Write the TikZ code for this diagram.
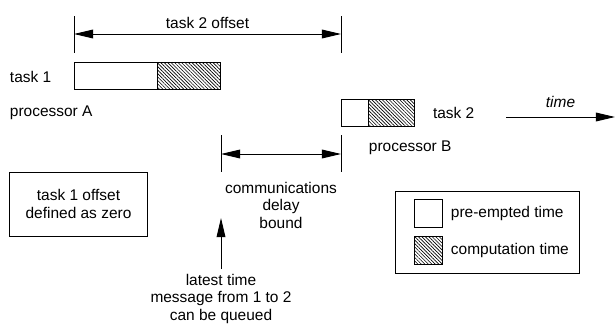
\documentclass[tikz,border=0pt]{standalone}
\usepackage{fontspec}
\setmainfont{Liberation Sans}
\usetikzlibrary{arrows.meta, positioning, patterns.meta}

\tikzset{
  slot/.style={draw, line width=0.7pt, inner sep=0pt, outer sep=0pt, minimum height=0.675cm},
  busy/.style={slot, pattern={Lines[angle=-45, distance=1.75pt, line width=0.45pt]}},
  lbl/.style={align=center},
  tick/.style={line width=0.7pt},
  arr/.style={line width=0.7pt, -{Triangle[length=0.48cm,width=0.22cm]}},
  dim/.style={line width=0.7pt, {Triangle[length=0.48cm,width=0.22cm]}-{Triangle[length=0.48cm,width=0.22cm]}},
}

\begin{document}
\begin{tikzpicture}[x=0.025cm, y=-0.025cm, font=\fontsize{11}{12.5}\selectfont]
\useasboundingbox (0,0) rectangle (615,323);
%task 1 on processor A
\node[slot, minimum width=2.075cm, anchor=north west] (pre1) at (74,62) {};
\node[busy, minimum width=1.575cm, anchor=west] (comp1) at (pre1.east) {};
\node[anchor=west] (task1) at (5,77) {task 1};
\node[anchor=west] (procA) at (5,113) {processor A};
%task 2 on processor B
\node[slot, minimum width=0.675cm, anchor=north west] (pre2) at (341,99) {};
\node[busy, minimum width=1.15cm, anchor=west] (comp2) at (pre2.east) {};
\node[right=0.35cm of comp2] (task2) {task 2};
\node[anchor=west] (procB) at (364,148) {processor B};
%task 2 offset
\coordinate (off1) at (74,34);
\coordinate (off2) at (341,34);
\draw[tick] (74,16) -- (74,53);
\draw[tick] (341,16) -- (341,53);
\draw[dim] (off1) -- (off2) node[midway, above] (offlbl) {task 2 offset};
%communications delay
\coordinate (cd1) at (221,154);
\coordinate (cd2) at (341,154);
\draw[tick] (221,135) -- (221,172);
\draw[tick] (341,135) -- (341,172);
\draw[dim] (cd1) -- (cd2);
\node[lbl, anchor=north] (cdlbl) at (281,177) {communications\\delay\\bound};
%latest queue time
\coordinate (qtip) at (221,218);
\node[lbl, anchor=north] (queue) at (221,269) {latest time\\message from 1 to 2\\can be queued};
\draw[arr] (queue) -- (qtip);
%time axis
\coordinate (t0) at (506,117);
\coordinate (t1) at (615,117);
\draw[arr] (t0) -- (t1) node[midway, above=1mm] (timelbl) {\itshape time};
%offset note
\node[draw, lbl, line width=0.7pt, minimum width=3.425cm, minimum height=1.6cm] (zero) at (78.5,204) {task 1 offset\\defined as zero};
%legend
\node[draw, line width=0.7pt, minimum width=4.575cm, minimum height=2.05cm] (legend) at (487.5,232) {};
\node[slot, minimum width=0.7cm, minimum height=0.7cm] (keypre) at (428,213) {};
\node[busy, minimum width=0.7cm, minimum height=0.7cm] (keycomp) at (428,250) {};
\node[right=0.1cm of keypre] (keyprelbl) {pre-empted time};
\node[right=0.1cm of keycomp] (keycomplbl) {computation time};
\end{tikzpicture}
\end{document}
